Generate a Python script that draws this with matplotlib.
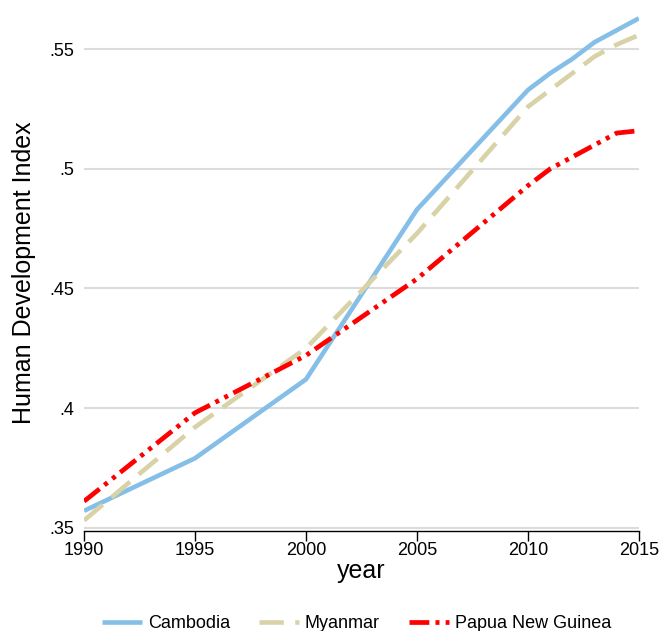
import matplotlib.pyplot as plt

plt.rcParams['font.family'] = ['Liberation Sans', 'DejaVu Sans']

years = [1990, 1995, 2000, 2005, 2010, 2011, 2012, 2013, 2014, 2015]
cambodia = [0.357, 0.379, 0.412, 0.483, 0.533, 0.540, 0.546, 0.553, 0.558, 0.563]
myanmar = [0.353, 0.392, 0.425, 0.473, 0.526, 0.533, 0.540, 0.547, 0.552, 0.556]
png = [0.361, 0.398, 0.422, 0.454, 0.493, 0.500, 0.505, 0.510, 0.515, 0.516]

yticks = [0.35, 0.4, 0.45, 0.5, 0.55]
ytick_labels = ['.35', '.4', '.45', '.5', '.55']
xticks = [1990, 1995, 2000, 2005, 2010, 2015]

fig = plt.figure(figsize=(6.62, 6.31), dpi=100)
ax = fig.add_axes([0.127, 0.159, 0.838, 0.818])

ax.plot(years, cambodia, color='#85bfe8', lw=3.3, solid_capstyle='butt', label='Cambodia')
ax.plot(years, myanmar, color='#d8d2a6', lw=3.3, dashes=(5.3, 2.5), label='Myanmar')
ax.plot(years, png, color='#ff0000', lw=3.4, dashes=(4.2, 1.3, 0.85, 1.3, 0.85, 1.3),
        label='Papua New Guinea')

ax.set_xlim(1990, 2015)
ax.set_ylim(0.3487, 0.5646)
ax.set_yticks(yticks)
ax.set_yticklabels(ytick_labels)
ax.set_xticks(xticks)
ax.yaxis.grid(True, color='#dcdcdc', lw=1.5)
ax.set_axisbelow(True)

for s in ['left', 'right', 'top']:
    ax.spines[s].set_visible(False)
ax.spines['bottom'].set_linewidth(1)
ax.tick_params(axis='y', length=0, labelsize=13, pad=7)
ax.tick_params(axis='x', length=7, width=1, labelsize=13, pad=1)

ax.set_ylabel('Human Development Index', fontsize=18, labelpad=10)
ax.set_xlabel('year', fontsize=18, labelpad=0)

fig.legend(loc='center', bbox_to_anchor=(0.5385, 0.012), ncol=3, frameon=False,
           fontsize=13, handlelength=2.2, handletextpad=0.35, columnspacing=1.6)

fig.savefig('out.png', dpi=100)
